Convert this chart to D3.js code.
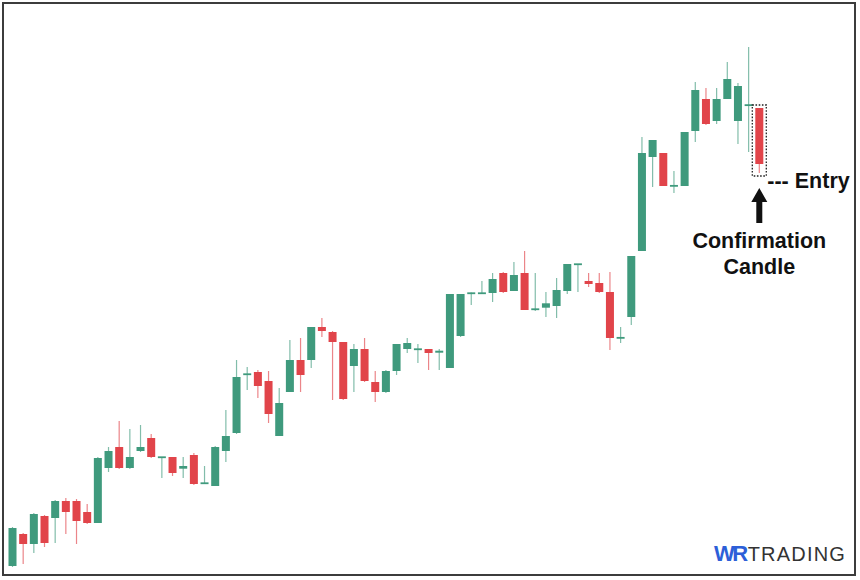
<!DOCTYPE html>
<html>
<head>
<meta charset="utf-8">
<script src="https://cdn.jsdelivr.net/npm/d3@7"></script>
<style>
  html, body { margin: 0; padding: 0; background: #ffffff; }
  svg { display: block; }
</style>
</head>
<body>
<svg id="chart" width="860" height="580"></svg>
<script>
// ---- Data (price units) ----
const openP  = [34,66,56,84,82,99,99,88,77,132,153,132,149,162,142.5,143,131.3,145,116.5,114,149,167,225.5,228,219,164,208,240,240,273,268,258,234,251,218,208,229,251,250.5,251,247.3,232,264,306.5,306.5,307,327,309,327,290.5,292.3,294,309,335.5,319,317,308,262,283,349,443,447,414,414,469,501,479,501,479,494.7,492];
const closeP = [72,56,86,57,99,88,79,77,142,149,132,143,153,143,143,127,134,116,117,153,164,223,226,214,186,197,240,225,273,269,258,201,251,219,208,229,256,257,251,247,249.3,306,306,307,307,321,308,325,290,291,296.7,310,336,336,316,308,262,262.3,344,447,460,414,414.3,468,510,476,501,521,514,495,436];
const highP  = [73,67,87,85,100,102,101,96,143,153,179,171,175,166,143,143,143,147,134,154,190,240,233,230,229,212,260,262,273,282,269,258,256,262,229,230,256,262,256,251,251,306,306,307.5,319,327,328,338,349,327,308,322,336,336,327,327,328,273,344,463,460,447,429,468,518,512,512,538,517,553,492];
const lowP   = [33,36,47,53,57,66,56,76,77,128,131,131,148,142,122,124,122,115,116,114,138,166,210,202,177,164,208,208,232,263,200,200,208,218,198,207,225,247,237,230,230,232,263,295,306,298,307,309,290,289,283,282,306,308,313,307,250,257,275,349,413,414,407,414,458,475,476,501,456,448,427];
const candleIdx = d3.range(openP.length);
const confirmIndex = 70;
const entryLabel = "--- Entry";
const confirmLabel = ["Confirmation", "Candle"];
const logoParts = ["WR", "TRADING"];

const candles = candleIdx.map(i => ({ i, o: openP[i], c: closeP[i], h: highP[i], l: lowP[i] }));

const svg = d3.select("#chart");
const W = 860, H = 580;

svg.append("rect").attr("width", W).attr("height", H).attr("fill", "#ffffff");

// Frame
svg.append("rect")
  .attr("x", 3).attr("y", 3).attr("width", 852).attr("height", 572)
  .attr("fill", "none").attr("stroke", "#3c3c3c").attr("stroke-width", 2);

const x = d3.scalePoint().domain(candleIdx).range([12.5, 759.3]);
const step = x.step();
const bw = step * 0.75;
const y = d3.scaleLinear().domain([27, 553]).range([573, 47]);

const green = "#3f9a7d", red = "#e1444a";
const col = d => d.c >= d.o ? green : red;

const g = svg.append("g");

// wicks
g.selectAll("line.wick").data(candles).join("line")
  .attr("class", "wick")
  .attr("x1", d => x(d.i)).attr("x2", d => x(d.i))
  .attr("y1", d => y(d.h)).attr("y2", d => y(d.l))
  .attr("stroke", col).attr("stroke-opacity", 0.65).attr("stroke-width", 1.2);

// bodies
g.selectAll("rect.body").data(candles).join("rect")
  .attr("class", "body")
  .attr("x", d => x(d.i) - bw / 2)
  .attr("width", bw)
  .attr("y", d => {
    const top = y(Math.max(d.o, d.c)), bot = y(Math.min(d.o, d.c));
    return (bot - top) < 1.8 ? (top + bot) / 2 - 0.9 : top;
  })
  .attr("height", d => Math.max(1.8, y(Math.min(d.o, d.c)) - y(Math.max(d.o, d.c))))
  .attr("fill", col);

// Confirmation box
const cd = candles[confirmIndex];
const cx = x(confirmIndex);
svg.append("rect")
  .attr("x", cx - bw / 2 - 3).attr("width", bw + 6)
  .attr("y", y(cd.h) - 3).attr("height", y(cd.l) - y(cd.h) + 6)
  .attr("fill", "none").attr("stroke", "#222").attr("stroke-width", 1.3)
  .attr("stroke-dasharray", "1.6,1.6");

// Entry label
svg.append("text")
  .attr("x", cx + 8).attr("y", 187.5)
  .attr("font-family", "Liberation Sans, Arial, sans-serif")
  .attr("font-weight", "bold").attr("font-size", 21.5)
  .attr("fill", "#111")
  .text(entryLabel);

// Arrow
const arrowTop = 188, arrowBot = 223;
svg.append("path")
  .attr("d", `M${cx},${arrowTop} L${cx + 8},${arrowTop + 14} L${cx + 3},${arrowTop + 14} L${cx + 3},${arrowBot} L${cx - 3},${arrowBot} L${cx - 3},${arrowTop + 14} L${cx - 8},${arrowTop + 14} Z`)
  .attr("fill", "#111");

// Confirmation Candle label
const lbl = svg.append("text")
  .attr("text-anchor", "middle")
  .attr("font-family", "Liberation Sans, Arial, sans-serif")
  .attr("font-weight", "bold").attr("font-size", 21.5)
  .attr("fill", "#111");
lbl.append("tspan").attr("x", cx).attr("y", 248).text(confirmLabel[0]);
lbl.append("tspan").attr("x", cx).attr("y", 274).text(confirmLabel[1]);

// Logo
const logo = svg.append("text")
  .attr("x", 714).attr("y", 561)
  .attr("font-family", "Liberation Sans, Arial, sans-serif")
  .attr("font-size", 20);
logo.append("tspan").attr("font-weight", "bold").attr("fill", "#2d5fd8")
  .attr("font-size", 22).attr("letter-spacing", -2.5).text(logoParts[0]);
logo.append("tspan").attr("fill", "#333").attr("dx", 2)
  .attr("letter-spacing", 1.2).text(logoParts[1]);
</script>
</body>
</html>
